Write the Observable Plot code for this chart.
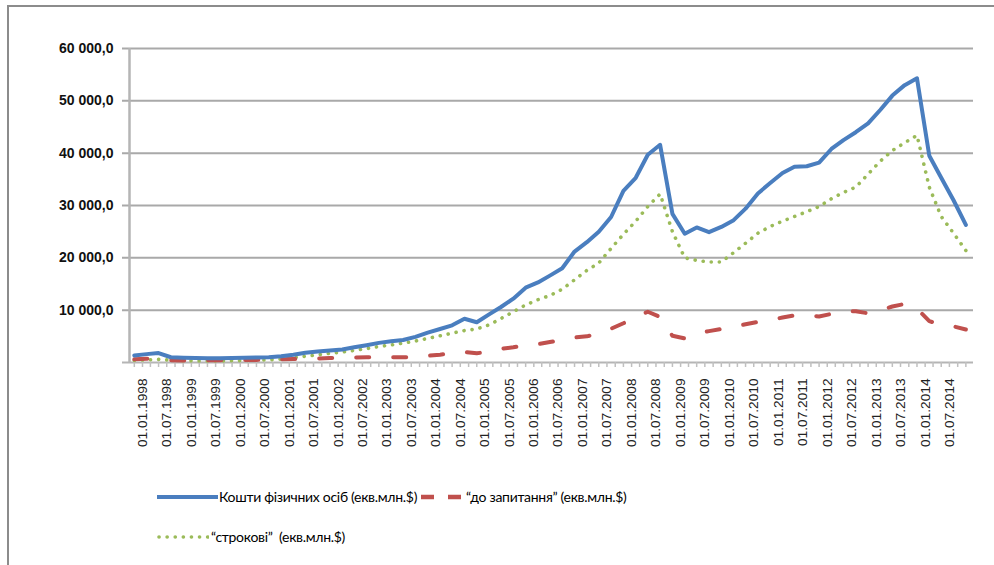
<!DOCTYPE html>
<html>
<head>
<meta charset="utf-8">
<script src="https://cdn.jsdelivr.net/npm/d3@7"></script>
<script src="https://cdn.jsdelivr.net/npm/@observablehq/plot@0.6"></script>
<style>
  html, body { margin: 0; padding: 0; background: #ffffff; }
  #wrap { position: relative; width: 994px; height: 565px; overflow: hidden; background: #fff; }
  #frame { position: absolute; left: 7px; top: 5px; width: 1000px; height: 600px;
           border-top: 2px solid #8c8c8c; border-left: 2px solid #8c8c8c; box-sizing: border-box; }
  #chart { position: absolute; left: 0; top: 0; }
  .leg { position: absolute; font-family: Lato, "Open Sans", sans-serif;
         font-size: 14px; letter-spacing: -0.3px; color: #000; white-space: pre; line-height: 20px; }
  .sw { position: absolute; }
  svg text { font-family: "Liberation Sans", Arial, sans-serif; }
  g[aria-label="y-axis tick label"] text { font-weight: bold; }
</style>
</head>
<body>
<div id="wrap">
  <div id="frame"></div>
  <div id="chart"></div>
</div>
<script>
// ---- data, millions USD equivalent ----
const dates = [
  "1997-11-01","1998-02-01","1998-05-01","1998-08-01","1998-11-01",
  "1999-02-01","1999-05-01","1999-08-01","1999-11-01",
  "2000-02-01","2000-05-01","2000-08-01","2000-11-01",
  "2001-02-01","2001-05-01","2001-08-01","2001-11-01",
  "2002-02-01","2002-05-01","2002-08-01","2002-11-01",
  "2003-02-01","2003-05-01","2003-08-01","2003-11-01",
  "2004-02-01","2004-05-01","2004-08-01","2004-11-01",
  "2005-02-01","2005-05-01","2005-08-01","2005-11-01",
  "2006-02-01","2006-05-01","2006-08-01","2006-11-01",
  "2007-02-01","2007-05-01","2007-08-01","2007-11-01",
  "2008-02-01","2008-05-01","2008-08-01","2008-11-01",
  "2009-02-01","2009-05-01","2009-08-01","2009-11-01",
  "2010-02-01","2010-05-01","2010-08-01","2010-11-01",
  "2011-02-01","2011-05-01","2011-08-01","2011-11-01",
  "2012-02-01","2012-05-01","2012-08-01","2012-11-01",
  "2013-02-01","2013-05-01","2013-08-01","2013-11-01",
  "2014-02-01","2014-05-01","2014-08-01","2014-11-01"
];
// Кошти фізичних осіб
const total = [
  1350,1600,1800,1000,900,
  850,830,820,850,
  900,950,1010,1200,
  1500,1850,2100,2300,
  2480,2900,3300,3750,
  4050,4300,4900,5700,
  6400,7100,8350,7700,
  9200,10600,12200,14300,
  15300,16600,18000,21200,
  23000,25000,27800,32800,
  35300,39700,41600,28400,
  24600,25800,24900,25900,
  27200,29400,32300,34300,
  36200,37400,37500,38200,
  40800,42500,44000,45700,
  48300,51000,53000,54300,
  39500,35300,31000,26300
];
// "до запитання"
const demand = [
  600,700,700,450,400,
  400,420,450,450,
  500,500,550,600,
  650,700,750,850,
  900,950,1000,1000,
  1000,1000,1100,1300,
  1500,1750,2000,1750,
  2100,2600,2900,3300,
  3500,3900,4300,4800,
  5000,5500,6450,7500,
  8700,9700,8700,5100,
  4600,5500,6000,6400,
  6800,7300,7750,8100,
  8600,9000,9000,8800,
  9300,9800,9800,9400,
  10000,10700,11200,10300,
  7900,7200,6900,6300
];
// "строкові"
const term = [
  400,500,600,450,350,
  300,300,300,330,
  380,430,500,650,
  900,1200,1450,1750,
  2000,2300,2650,3050,
  3350,3700,4100,4600,
  5100,5600,6100,6400,
  7200,8400,9700,11000,
  12000,12800,14000,15800,
  17600,19000,21800,24500,
  27000,29800,32200,25000,
  20000,19500,19200,19200,
  21000,22800,24700,26000,
  27000,27900,28800,29800,
  31300,32500,33500,36000,
  38500,40500,42000,43400,
  33500,27900,24700,21400
];
const yTicks = [10000, 20000, 30000, 40000, 50000, 60000];
const xDomain = ["1997-09-26", "2014-12-28"];
const labelStart = "1998-01-01", labelEnd = "2014-07-02";

const seriesNames = ["Кошти фізичних осіб (екв.млн.$)", "“до запитання” (екв.млн.$)", "“строкові”  (екв.млн.$)"];
const colors = ["#4A7EBF", "#C0504D", "#9BBB59"];

// ---- build table ----
const parse = d3.utcParse("%Y-%m-%d");
const rows = dates.map((d, i) => ({date: parse(d), total: total[i], demand: demand[i], term: term[i]}));

const locale = d3.formatLocale({decimal: ",", thousands: "\u00a0", grouping: [3], currency: ["", ""]});
const yFmt = locale.format(",.1f");
const xFmt = d3.utcFormat("%d.%m.%Y");
const xd = xDomain.map(parse);
const labelTicks = d3.utcMonth.every(6).range(parse(labelStart), parse(labelEnd));
const minorTicks = d3.utcMonth.every(2).range(xd[0], xd[1]);

const chart = Plot.plot({
  width: 994,
  height: 470,
  marginLeft: 129,
  marginRight: 21,
  marginTop: 48,
  marginBottom: 108,
  style: {background: "transparent", fontFamily: "'Liberation Sans', Arial, sans-serif"},
  x: {type: "utc", domain: xd},
  y: {domain: [0, 60000]},
  marks: [
    Plot.ruleY(yTicks, {stroke: "#a9a9a9", strokeWidth: 2, insetLeft: -7}),
    Plot.ruleY([0], {stroke: "#b5b5b5", strokeWidth: 2, insetLeft: -7}),
    Plot.ruleX([xd[0]], {stroke: "#b5b5b5", strokeWidth: 2.5}),
    Plot.axisX(minorTicks, {tickSize: 5, stroke: "#c0c0c0", strokeWidth: 1.5, tickFormat: () => ""}),
    Plot.axisX(labelTicks, {tickSize: 0, tickPadding: 16, tickRotate: -90, tickFormat: xFmt,
      fontSize: 13.7, fill: "#222", label: null}),
    Plot.axisY(yTicks, {tickSize: 0, tickPadding: 16, tickFormat: yFmt, fontSize: 14,
      fontWeight: "bold", fill: "#111", label: null}),
    Plot.line(rows, {x: "date", y: "term", stroke: colors[2], strokeWidth: 3.6,
      strokeDasharray: "0.1,8", strokeLinecap: "round"}),
    Plot.line(rows, {x: "date", y: "demand", stroke: colors[1], strokeWidth: 4,
      strokeDasharray: "13,24", strokeLinecap: "round"}),
    Plot.line(rows, {x: "date", y: "total", stroke: colors[0], strokeWidth: 4,
      strokeLinejoin: "round"})
  ]
});
document.getElementById("chart").appendChild(chart);

// ---- legend ----
const wrap = document.getElementById("wrap");
function swatch(x, y, w, color, dash, width, cap) {
  const s = document.createElementNS("http://www.w3.org/2000/svg", "svg");
  s.setAttribute("class", "sw");
  s.setAttribute("width", w); s.setAttribute("height", 10);
  s.style.left = x + "px"; s.style.top = (y - 5) + "px";
  const l = document.createElementNS("http://www.w3.org/2000/svg", "line");
  l.setAttribute("x1", cap ? 2 : 0); l.setAttribute("x2", w);
  l.setAttribute("y1", 5); l.setAttribute("y2", 5);
  l.setAttribute("stroke", color); l.setAttribute("stroke-width", width);
  if (dash) l.setAttribute("stroke-dasharray", dash);
  if (cap) l.setAttribute("stroke-linecap", cap);
  s.appendChild(l);
  wrap.appendChild(s);
}
function label(x, y, text) {
  const d = document.createElement("div");
  d.className = "leg";
  d.textContent = text;
  d.style.left = x + "px"; d.style.top = (y - 10) + "px";
  wrap.appendChild(d);
}
swatch(157, 497, 61, colors[0], null, 4);
label(219, 497, seriesNames[0]);
swatch(421, 497, 43, colors[1], "13,14", 4.5);
label(466, 497, seriesNames[1]);
swatch(157, 537, 52, colors[2], "0.1,8", 3.6, "round");
label(211, 537, seriesNames[2]);
</script>
</body>
</html>
